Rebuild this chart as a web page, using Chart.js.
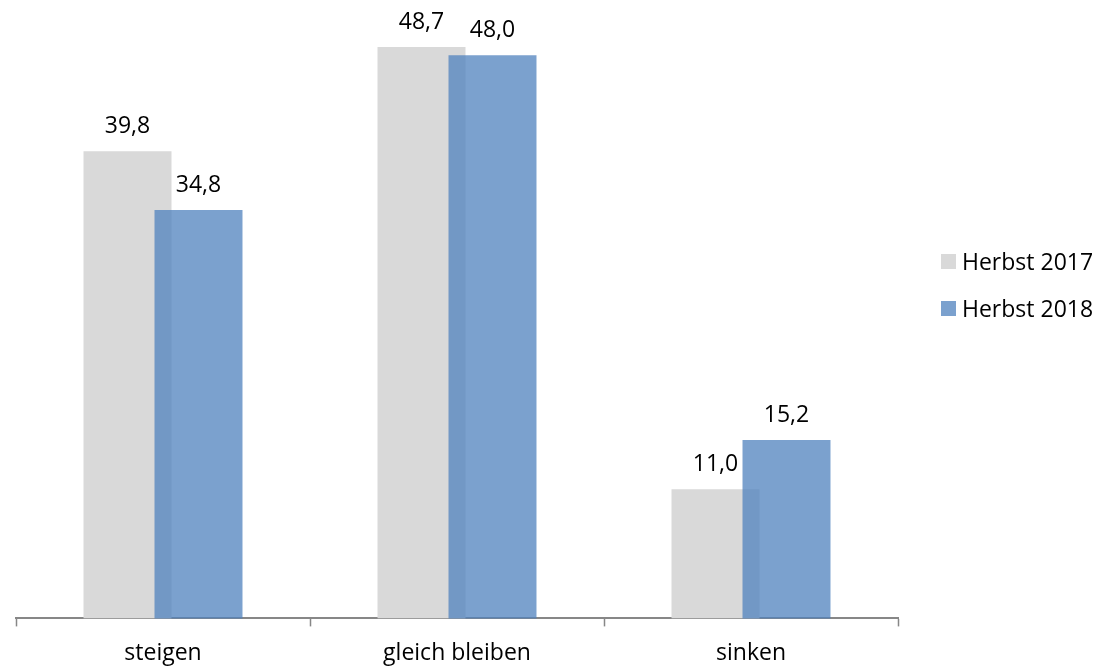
<!DOCTYPE html>
<html>
<head>
<meta charset="utf-8">
<script src="https://cdn.jsdelivr.net/npm/chart.js@4"></script>
<style>
  html, body { margin: 0; padding: 0; background: #fff; }
  #wrap { width: 1095px; height: 666px; }
</style>
</head>
<body>
<div id="wrap"><canvas id="myChart" width="1095" height="666"></canvas></div>
<script>
// values
const categories = ['steigen', 'gleich bleiben', 'sinken'];
const herbst2017 = [39.8, 48.7, 11.0];
const herbst2018 = [34.8, 48.0, 15.2];
const seriesNames = ['Herbst 2017', 'Herbst 2018'];

const FONT = '"Open Sans", sans-serif';

// blue bars sit on top of the grey ones -> skip them in the normal pass, draw them afterwards
const overlapPlugin = {
    id: 'overlap',
    beforeDatasetDraw(chart, args) {
        if (args.index === 1 && !chart.$drawingTop) return false;
    },
    afterDatasetsDraw(chart) {
        const meta = chart.getDatasetMeta(1);
        chart.$drawingTop = true;
        meta.controller.draw();
        chart.$drawingTop = false;

        // value labels
        const ctx = chart.ctx;
        ctx.save();
        ctx.font = '23px ' + FONT;
        ctx.fillStyle = '#000';
        ctx.textAlign = 'center';
        ctx.textBaseline = 'alphabetic';
        chart.data.datasets.forEach((ds, i) => {
            chart.getDatasetMeta(i).data.forEach((bar, j) => {
                const txt = ds.data[j].toFixed(1).replace('.', ',');
                ctx.fillText(txt, bar.x, bar.y - 18);
            });
        });
        ctx.restore();
    }
};

// legend on the right
const sideLegend = {
    id: 'sideLegend',
    afterDraw(chart) {
        const ctx = chart.ctx;
        ctx.save();
        ctx.font = '23px ' + FONT;
        ctx.textBaseline = 'alphabetic';
        chart.data.datasets.forEach((ds, i) => {
            const y = 262 + i * 47;
            ctx.fillStyle = ds.backgroundColor;
            ctx.fillRect(941, y - 8, 15, 15);
            ctx.fillStyle = '#000';
            ctx.fillText(ds.label, 962, y + 8);
        });
        ctx.restore();
    }
};

new Chart(document.getElementById('myChart').getContext('2d'), {
    type: 'bar',
    data: {
        labels: categories,
        datasets: [
            {
                label: seriesNames[0],
                data: herbst2017,
                backgroundColor: '#D9D9D9'
            },
            {
                label: seriesNames[1],
                data: herbst2018,
                backgroundColor: 'rgba(79,129,189,0.75)'
            }
        ]
    },
    options: {
        responsive: false,
        animation: false,
        categoryPercentage: 0.483,
        barPercentage: 1.239,
        layout: {
            padding: {left: 16, right: 197, top: 0, bottom: -14}
        },
        plugins: {
            legend: {display: false},
            tooltip: {enabled: false}
        },
        scales: {
            x: {
                offset: true,
                grid: {
                    offset: true,
                    drawOnChartArea: false,
                    tickLength: 8,
                    tickWidth: 1.5,
                    color: '#878787'
                },
                border: {color: '#878787', width: 2},
                ticks: {
                    color: '#000',
                    padding: 13,
                    font: {family: FONT, size: 23}
                }
            },
            y: {
                display: false,
                min: 0,
                max: 52.7
            }
        }
    },
    plugins: [overlapPlugin, sideLegend]
});
</script>
</body>
</html>
